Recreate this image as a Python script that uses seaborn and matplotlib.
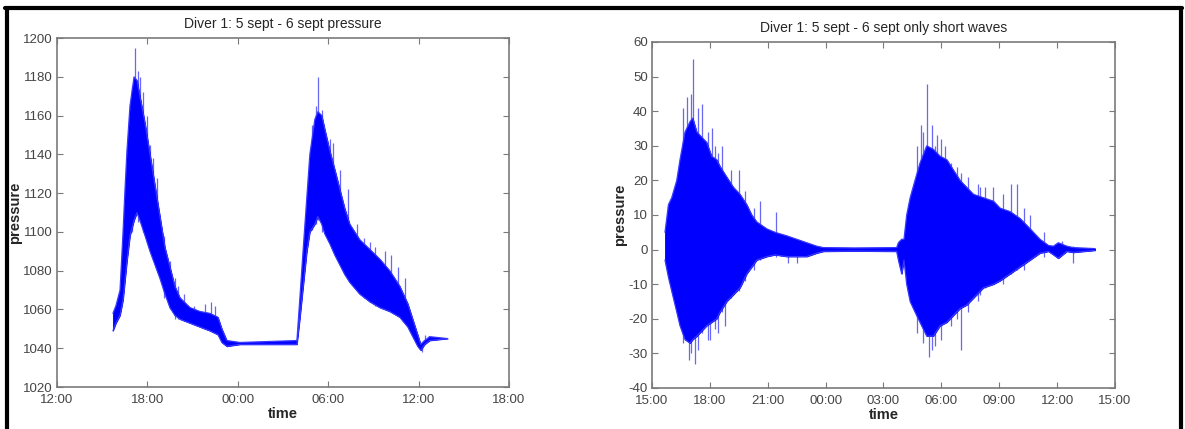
import numpy as np
import pandas as pd
import matplotlib
matplotlib.use("Agg")
import matplotlib.pyplot as plt
import matplotlib.dates as mdates
from matplotlib.lines import Line2D
import seaborn as sns

# ---- left panel: raw pressure, hours after 12:00 on 5 Sept ----
p_hours = [3.71, 3.91, 4.18, 4.38, 4.51, 4.64, 4.84, 5.11, 5.31, 5.50, 5.84, 6.17,
           6.50, 6.83, 7.16, 7.49, 7.82, 8.16, 8.82, 9.48, 10.15, 10.68, 10.94,
           11.27, 12.14, 15.92, 16.11, 16.31, 16.58, 16.78, 17.11, 17.31, 17.57,
           17.77, 18.10, 18.44, 18.77, 19.10, 19.43, 20.09, 20.76, 21.42, 22.08,
           22.75, 23.28, 23.61, 23.94, 24.14, 24.40, 24.73, 25.93]
p_upper = [1058, 1062, 1070, 1100, 1122, 1142, 1165, 1180, 1178, 1170, 1156, 1140,
           1124, 1108, 1092, 1082, 1072, 1066, 1061, 1059, 1058, 1056, 1050,
           1044, 1043, 1044, 1065, 1088, 1118, 1140, 1158, 1162, 1160,
           1153, 1142, 1132, 1122, 1112, 1104, 1096, 1091, 1086, 1080,
           1072, 1063, 1055, 1047, 1042, 1044, 1046, 1045]
p_lower = [1049, 1053, 1057, 1065, 1075, 1085, 1098, 1106, 1110, 1106, 1098, 1090,
           1083, 1076, 1068, 1061, 1057, 1055, 1053, 1051, 1049, 1047, 1043,
           1041, 1042, 1042, 1055, 1070, 1090, 1100, 1104, 1108, 1104,
           1099, 1094, 1088, 1083, 1078, 1074, 1068, 1064, 1061, 1059,
           1056, 1051, 1046, 1041, 1039, 1042, 1044, 1045]
# isolated peaks sticking out of the band
p_spike_hours = [5.18, 5.37, 5.50, 6.17, 6.63, 6.96, 7.49, 9.10, 10.48, 17.31,
                 17.18, 18.10, 18.77, 20.76, 21.75, 22.62, 24.20, 24.40,
                 4.95, 5.70, 5.95, 6.40, 7.80, 8.40, 9.80, 10.2, 16.90, 17.60,
                 18.30, 19.30, 19.90, 20.40, 21.10, 22.20, 23.10, 7.10, 8.00]
p_spike_top = [1195, 1183, 1180, 1145, 1128, 1100, 1085, 1062, 1062, 1180,
               1165, 1148, 1132, 1095, 1090, 1082, 1042, 1047,
               1175, 1172, 1160, 1138, 1076, 1068, 1063, 1064, 1155, 1163,
               1146, 1122, 1104, 1097, 1092, 1088, 1076, 1098, 1072]
p_spike_bottom = [1110, 1105, 1105, 1092, 1082, 1074, 1060, 1053, 1049, 1106,
                  1104, 1095, 1085, 1064, 1060, 1058, 1038, 1042,
                  1100, 1100, 1096, 1086, 1055, 1054, 1050, 1049, 1101, 1100,
                  1091, 1076, 1070, 1066, 1062, 1059, 1055, 1066, 1055]

# ---- right panel: short waves only, hours after 15:00 on 5 Sept ----
w_hours = [0.67, 0.85, 1.02, 1.28, 1.45, 1.71, 1.97, 2.11, 2.32, 2.49, 2.66, 2.83,
           3.09, 3.35, 3.53, 3.87, 4.22, 4.56, 4.91, 5.17, 5.43, 5.95, 6.38, 6.98,
           7.50, 8.02, 8.54, 8.88, 10.5, 12.68, 12.77, 12.94, 13.06, 13.20, 13.38,
           13.63, 13.89, 14.24, 14.58, 14.93, 15.28, 15.62, 15.97, 16.31, 16.66,
           17.18, 17.70, 18.04, 18.56, 19.08, 19.60, 20.11, 20.55, 20.81, 21.06,
           21.50, 21.84, 22.97]
w_upper = [5, 13, 15, 20, 26, 34, 37, 38, 34, 33, 32, 31,
           27, 26, 24, 21, 18, 16, 13, 10, 8, 6, 5, 4,
           3, 2, 1, 0.6, 0.5, 0.6, 2, 3, 3, 10, 15,
           20, 25, 30, 29, 27, 26, 23, 20, 18, 16,
           15, 14, 12, 11, 9, 6, 3, 1.2, 1, 2,
           1, 0.6, 0.3]
w_lower = [-3, -8, -12, -18, -22, -26, -27, -26, -25, -24, -23, -22,
           -21, -20, -18, -15, -13, -11, -7, -5, -3, -2, -1.5, -2,
           -2, -2, -1, -0.5, -0.4, -0.5, -3, -7, -3, -10, -15,
           -18, -21, -25, -25, -22, -21, -19, -17, -16, -14,
           -11, -10, -9, -7, -5, -3, -1, -0.5, -1.5, -2.5,
           -0.5, -0.8, -0.2]
w_spike_hours = [1.83, 2.13, 1.94, 2.23, 3.13, 3.61, 3.78, 4.51, 5.60, 6.41, 7.07,
                 7.50, 13.93, 14.27, 14.38, 14.79, 15.19, 17.26, 17.70, 18.59,
                 18.90, 19.60, 21.84, 21.24, 2.60, 3.40, 4.10, 16.0, 16.9, 15.5,
                 1.60, 2.00, 2.40, 2.90, 3.25, 4.80, 5.30, 13.75, 14.05, 14.50,
                 15.00, 15.80, 16.40, 17.00, 18.20, 19.30, 20.30, 3.00, 14.65]
w_spike_top = [44, 55, 30, 32, 35, 30, 20, 23, 14, 11, 3,
               3, 36, 48, 25, 33, 30, 18, 18, 19,
               19, 10, 1, 2.5, 42, 28, 23, 22, 19, 25,
               41, 45, 41, 34, 30, 17, 12, 30, 34, 36,
               32, 24, 21, 18, 16, 12, 5, 25, 30]
w_spike_bottom = [-20, -24, -32, -33, -20, -18, -22, -12, -3, -2, -4,
                  -4, -20, -22, -31, -20, -20, -11, -10, -7,
                  -6, -3, -4, -1, -24, -24, -14, -29, -15, -22,
                  -27, -30, -29, -26, -23, -9, -6, -24, -27, -29,
                  -26, -20, -18, -13, -10, -6, -2, -26, -28]

blue = "#0000ff"

sns.set_theme(style="white")
plt.rcParams["font.family"] = ["Liberation Sans", "DejaVu Sans"]
plt.rcParams["axes.unicode_minus"] = False

fig = plt.figure(figsize=(11.85, 4.29), dpi=100)
ax1 = fig.add_axes([0.0481, 0.0979, 0.3814, 0.8135])
ax2 = fig.add_axes([0.5502, 0.0956, 0.3907, 0.8065])

start1 = pd.Timestamp("2012-09-05 12:00")
start2 = pd.Timestamp("2012-09-05 15:00")


def to_time(start, hours):
    return start + pd.to_timedelta(np.asarray(hours), unit="h")


def draw_band(ax, start, hours, upper, lower, s_hours, s_top, s_bot):
    t = to_time(start, hours)
    df = pd.DataFrame({"time": t, "upper": upper, "lower": lower})
    # spikes go underneath so only the part outside the band shows
    ax.vlines(to_time(start, s_hours), s_bot, s_top, color="#3535f0", lw=0.9,
              alpha=0.75, zorder=1)
    ax.fill_between(df["time"], df["lower"], df["upper"], color=blue, lw=0.6,
                    edgecolor=blue, zorder=2)
    sns.lineplot(data=df, x="time", y="upper", ax=ax, color="#3a3aff", lw=0.8,
                 zorder=3)
    sns.lineplot(data=df, x="time", y="lower", ax=ax, color="#3a3aff", lw=0.8,
                 zorder=3)


draw_band(ax1, start1, p_hours, p_upper, p_lower,
          p_spike_hours, p_spike_top, p_spike_bottom)
draw_band(ax2, start2, w_hours, w_upper, w_lower,
          w_spike_hours, w_spike_top, w_spike_bottom)

ax1.set_xlim(start1, start1 + pd.Timedelta(hours=30))
ax1.set_ylim(1020, 1200)
ax1.set_yticks(np.arange(1020, 1201, 20))
ax1.xaxis.set_major_locator(mdates.HourLocator(byhour=[0, 6, 12, 18]))
ax1.set_title("Diver 1: 5 sept - 6 sept pressure", fontsize=10, pad=7)

ax2.set_xlim(start2, start2 + pd.Timedelta(hours=24))
ax2.set_ylim(-40, 60)
ax2.set_yticks(np.arange(-40, 61, 10))
ax2.xaxis.set_major_locator(mdates.HourLocator(interval=3))
ax2.set_title("Diver 1: 5 sept - 6 sept only short waves", fontsize=10, pad=7)

for ax in (ax1, ax2):
    ax.xaxis.set_major_formatter(mdates.DateFormatter("%H:%M"))
    ax.set_xlabel("time", fontsize=10.5, fontweight="bold", labelpad=1)
    ax.set_ylabel("pressure", fontsize=10.5, fontweight="bold", labelpad=1)
    ax.tick_params(direction="in", length=4, width=0.8, color="#7a7a7a",
                   labelsize=9.5, labelcolor="#444444", top=True, right=True,
                   bottom=True, left=True, pad=3)
    ax.tick_params(axis="x", pad=5)
    for s in ax.spines.values():
        s.set_color("#7a7a7a")
        s.set_linewidth(1.2)
    ax.grid(False)

# black frame around both panels
frame_kw = dict(transform=fig.transFigure, color="black", lw=3)
fig.add_artist(Line2D([0.0055, 0.0055], [0.0, 0.982], **frame_kw))
fig.add_artist(Line2D([0.0042, 0.9975], [0.982, 0.982], **frame_kw))
fig.add_artist(Line2D([0.9965, 0.9965], [0.0, 0.982], **frame_kw))

fig.savefig("out.png", dpi=100, facecolor="white")
